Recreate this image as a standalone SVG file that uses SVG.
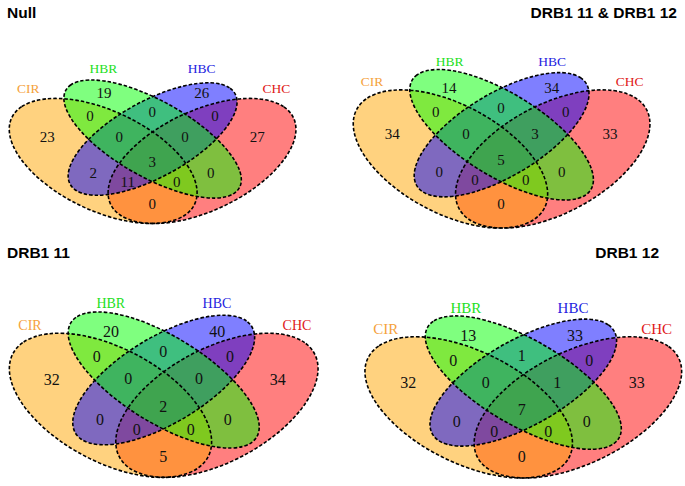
<svg xmlns="http://www.w3.org/2000/svg" xmlns:xlink="http://www.w3.org/1999/xlink" width="685" height="486" viewBox="0 0 685 486">
<style>
.ttl{font-family:"Liberation Sans",Arial,sans-serif;font-weight:bold;font-size:15.5px;fill:#000}
.n{font-family:"Liberation Serif","Times New Roman",serif;fill:#111;text-anchor:middle}
.l{font-family:"Liberation Serif","Times New Roman",serif;text-anchor:middle}
.cir{fill:#FFA500;fill-opacity:.5}
.hbr{fill:#00FF00;fill-opacity:.5}
.hbc{fill:#0000FF;fill-opacity:.5}
.chc{fill:#FF0000;fill-opacity:.5}
.o{fill:none;stroke:#000;stroke-width:1.6;stroke-dasharray:3.5 2}
.tcir{fill:#F5A23C}.thbr{fill:#22E022}.thbc{fill:#2424E0}.tchc{fill:#E01818}
</style>
<defs>
<ellipse id="eCIR" cx="0" cy="0" rx="0.35" ry="0.2" transform="translate(0.35 0.47) rotate(135)"/>
<ellipse id="eHBR" cx="0" cy="0" rx="0.35" ry="0.15" transform="translate(0.5 0.57) rotate(135)"/>
<ellipse id="eHBC" cx="0" cy="0" rx="0.33" ry="0.15" transform="translate(0.5 0.57) rotate(45)"/>
<ellipse id="eCHC" cx="0" cy="0" rx="0.35" ry="0.2" transform="translate(0.65 0.47) rotate(45)"/>
</defs>

<g id="panel-null">
<text class="ttl" x="7" y="18.3">Null</text>
<g id="null-sets" transform="matrix(329.5 0 0 -219.4 -12.15 264.08)">
<ellipse class="chc" rx="0.35" ry="0.2" transform="translate(0.65 0.47) rotate(45)"/>
<ellipse class="cir" rx="0.35" ry="0.2" transform="translate(0.35 0.47) rotate(135)"/>
<ellipse class="hbc" rx="0.33" ry="0.15" transform="translate(0.5 0.57) rotate(45)"/>
<ellipse class="hbr" rx="0.35" ry="0.15" transform="translate(0.5 0.57) rotate(135)"/>
<ellipse class="o" vector-effect="non-scaling-stroke" rx="0.35" ry="0.2" transform="translate(0.65 0.47) rotate(45)"/>
<ellipse class="o" vector-effect="non-scaling-stroke" rx="0.35" ry="0.2" transform="translate(0.35 0.47) rotate(135)"/>
<ellipse class="o" vector-effect="non-scaling-stroke" rx="0.33" ry="0.15" transform="translate(0.5 0.57) rotate(45)"/>
<ellipse class="o" vector-effect="non-scaling-stroke" rx="0.35" ry="0.15" transform="translate(0.5 0.57) rotate(135)"/>
</g>
<g id="null-labels" font-size="13.5">
<text class="l tcir" x="28.3" y="92.7">CIR</text>
<text class="l thbr" x="103.3" y="72.7">HBR</text>
<text class="l thbc" x="201.7" y="72.7">HBC</text>
<text class="l tchc" x="276.3" y="92.7">CHC</text>
</g>
<g id="null-counts" font-size="15">
<text class="n" x="47.3" y="141.7">23</text>
<text class="n" x="104" y="98.3">19</text>
<text class="n" x="201.7" y="98.3">26</text>
<text class="n" x="257.3" y="141.7">27</text>
<text class="n" x="90" y="120.7">0</text>
<text class="n" x="152.3" y="116.7">0</text>
<text class="n" x="215" y="120.7">0</text>
<text class="n" x="119.3" y="141.7">0</text>
<text class="n" x="185" y="141.7">0</text>
<text class="n" x="93.3" y="178.3">2</text>
<text class="n" x="152.3" y="166.7">3</text>
<text class="n" x="210.7" y="178.3">0</text>
<text class="n" x="127.7" y="186.7">11</text>
<text class="n" x="176.7" y="186.7">0</text>
<text class="n" x="152.3" y="209.3">0</text>
</g>
</g>

<g id="panel-drb1-11-12">
<text class="ttl" x="677" y="18.3" text-anchor="end">DRB1 11 &amp; DRB1 12</text>
<g id="both-sets" transform="matrix(341 0 0 -242.4 331.1 272.9)">
<ellipse class="chc" rx="0.35" ry="0.2" transform="translate(0.65 0.47) rotate(45)"/>
<ellipse class="cir" rx="0.35" ry="0.2" transform="translate(0.35 0.47) rotate(135)"/>
<ellipse class="hbc" rx="0.33" ry="0.15" transform="translate(0.5 0.57) rotate(45)"/>
<ellipse class="hbr" rx="0.35" ry="0.15" transform="translate(0.5 0.57) rotate(135)"/>
<ellipse class="o" vector-effect="non-scaling-stroke" rx="0.35" ry="0.2" transform="translate(0.65 0.47) rotate(45)"/>
<ellipse class="o" vector-effect="non-scaling-stroke" rx="0.35" ry="0.2" transform="translate(0.35 0.47) rotate(135)"/>
<ellipse class="o" vector-effect="non-scaling-stroke" rx="0.33" ry="0.15" transform="translate(0.5 0.57) rotate(45)"/>
<ellipse class="o" vector-effect="non-scaling-stroke" rx="0.35" ry="0.15" transform="translate(0.5 0.57) rotate(135)"/>
</g>
<g id="both-labels" font-size="13.5">
<text class="l tcir" x="372" y="86">CIR</text>
<text class="l thbr" x="449.7" y="66">HBR</text>
<text class="l thbc" x="552.2" y="66">HBC</text>
<text class="l tchc" x="629.7" y="86">CHC</text>
</g>
<g id="both-counts" font-size="15">
<text class="n" x="449" y="92.7">14</text>
<text class="n" x="551.7" y="92.7">34</text>
<text class="n" x="392.3" y="139.3">34</text>
<text class="n" x="610" y="139.3">33</text>
<text class="n" x="435.7" y="117.3">0</text>
<text class="n" x="501" y="113.3">0</text>
<text class="n" x="565.7" y="117.3">0</text>
<text class="n" x="466" y="139.3">0</text>
<text class="n" x="535" y="139.3">3</text>
<text class="n" x="439.3" y="176.7">0</text>
<text class="n" x="501" y="165">5</text>
<text class="n" x="561.7" y="176.7">0</text>
<text class="n" x="475" y="185">0</text>
<text class="n" x="525.7" y="185">0</text>
<text class="n" x="501" y="209.3">0</text>
</g>
</g>

<g id="panel-drb1-11">
<text class="ttl" x="7" y="258.3">DRB1 11</text>
<g id="d11-sets" transform="matrix(354.8 0 0 -252.8 -13.7 524.1)">
<ellipse class="chc" rx="0.35" ry="0.2" transform="translate(0.65 0.47) rotate(45)"/>
<ellipse class="cir" rx="0.35" ry="0.2" transform="translate(0.35 0.47) rotate(135)"/>
<ellipse class="hbc" rx="0.33" ry="0.15" transform="translate(0.5 0.57) rotate(45)"/>
<ellipse class="hbr" rx="0.35" ry="0.15" transform="translate(0.5 0.57) rotate(135)"/>
<ellipse class="o" vector-effect="non-scaling-stroke" rx="0.35" ry="0.2" transform="translate(0.65 0.47) rotate(45)"/>
<ellipse class="o" vector-effect="non-scaling-stroke" rx="0.35" ry="0.2" transform="translate(0.35 0.47) rotate(135)"/>
<ellipse class="o" vector-effect="non-scaling-stroke" rx="0.33" ry="0.15" transform="translate(0.5 0.57) rotate(45)"/>
<ellipse class="o" vector-effect="non-scaling-stroke" rx="0.35" ry="0.15" transform="translate(0.5 0.57) rotate(135)"/>
</g>
<g id="d11-labels" font-size="14">
<text class="l tcir" x="30" y="330">CIR</text>
<text class="l thbr" x="110.8" y="308.3">HBR</text>
<text class="l thbc" x="217" y="308.3">HBC</text>
<text class="l tchc" x="297" y="330">CHC</text>
</g>
<g id="d11-counts" font-size="16">
<text class="n" x="111" y="336.7">20</text>
<text class="n" x="217.3" y="336.7">40</text>
<text class="n" x="51.7" y="385">32</text>
<text class="n" x="277.7" y="385">34</text>
<text class="n" x="96.7" y="361.7">0</text>
<text class="n" x="163.3" y="356.7">0</text>
<text class="n" x="230" y="361.7">0</text>
<text class="n" x="128.3" y="384">0</text>
<text class="n" x="199" y="384">0</text>
<text class="n" x="100" y="425">0</text>
<text class="n" x="163.3" y="411.7">2</text>
<text class="n" x="227.7" y="425">0</text>
<text class="n" x="136.7" y="435">0</text>
<text class="n" x="190.7" y="435">0</text>
<text class="n" x="163.3" y="461.7">5</text>
</g>
</g>

<g id="panel-drb1-12">
<text class="ttl" x="659" y="258.3" text-anchor="end">DRB1 12</text>
<g id="d12-sets" transform="matrix(364 0 0 -247.7 341.3 523.8)">
<ellipse class="chc" rx="0.35" ry="0.2" transform="translate(0.65 0.47) rotate(45)"/>
<ellipse class="cir" rx="0.35" ry="0.2" transform="translate(0.35 0.47) rotate(135)"/>
<ellipse class="hbc" rx="0.33" ry="0.15" transform="translate(0.5 0.57) rotate(45)"/>
<ellipse class="hbr" rx="0.35" ry="0.15" transform="translate(0.5 0.57) rotate(135)"/>
<ellipse class="o" vector-effect="non-scaling-stroke" rx="0.35" ry="0.2" transform="translate(0.65 0.47) rotate(45)"/>
<ellipse class="o" vector-effect="non-scaling-stroke" rx="0.35" ry="0.2" transform="translate(0.35 0.47) rotate(135)"/>
<ellipse class="o" vector-effect="non-scaling-stroke" rx="0.33" ry="0.15" transform="translate(0.5 0.57) rotate(45)"/>
<ellipse class="o" vector-effect="non-scaling-stroke" rx="0.35" ry="0.15" transform="translate(0.5 0.57) rotate(135)"/>
</g>
<g id="d12-labels" font-size="15">
<text class="l tcir" x="385.7" y="334.3">CIR</text>
<text class="l thbr" x="465.8" y="312.7">HBR</text>
<text class="l thbc" x="573" y="312.7">HBC</text>
<text class="l tchc" x="656.7" y="334.3">CHC</text>
</g>
<g id="d12-counts" font-size="16">
<text class="n" x="468.3" y="341">13</text>
<text class="n" x="575" y="341">33</text>
<text class="n" x="408.3" y="388.3">32</text>
<text class="n" x="636.7" y="388.3">33</text>
<text class="n" x="453.3" y="366">0</text>
<text class="n" x="521.7" y="361">1</text>
<text class="n" x="589.3" y="366">0</text>
<text class="n" x="485.7" y="388.3">0</text>
<text class="n" x="557.3" y="388.3">1</text>
<text class="n" x="456.7" y="426.7">0</text>
<text class="n" x="521.7" y="415">7</text>
<text class="n" x="586.7" y="426.7">0</text>
<text class="n" x="494.3" y="436.7">0</text>
<text class="n" x="548.3" y="436.7">0</text>
<text class="n" x="521.7" y="461.7">0</text>
</g>
</g>
</svg>
